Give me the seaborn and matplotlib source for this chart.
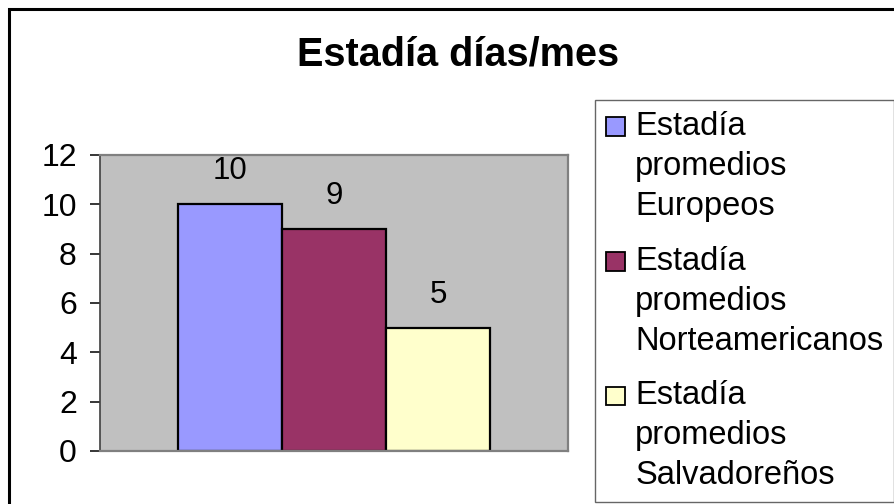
import matplotlib
matplotlib.use("Agg")
import matplotlib.pyplot as plt
from matplotlib.patches import Rectangle
from matplotlib.legend_handler import HandlerBase
import seaborn as sns
import pandas as pd

# datos
grupo = ["Estadía"]
series = ["Estadía\npromedios\nEuropeos",
          "Estadía\npromedios\nNorteamericanos",
          "Estadía\npromedios\nSalvadoreños"]
dias = [10, 9, 5]
colores = ["#9999FF", "#993366", "#FFFFCC"]
titulo = "Estadía días/mes"
yticks = [0, 2, 4, 6, 8, 10, 12]


class TopRectHandler(HandlerBase):
    """Dibuja el cuadro de la leyenda alineado con la primera línea del texto."""
    def create_artists(self, legend, orig_handle, xdescent, ydescent,
                       width, height, fontsize, trans):
        side = width
        r = Rectangle((-xdescent, 1.3 * fontsize), side, side,
                      facecolor=orig_handle.get_facecolor(),
                      edgecolor="black", linewidth=1.3, transform=trans)
        return [r]


sns.set_style("white")
plt.rcParams["font.family"] = ["Liberation Sans", "DejaVu Sans"]
plt.rcParams["text.color"] = "black"
plt.rcParams["ytick.color"] = "black"

df = pd.DataFrame({"grupo": grupo * len(series), "serie": series, "dias": dias})

W, H = 895, 504
fig = plt.figure(figsize=(W / 100, H / 100), dpi=100)
ax = fig.add_axes([100 / W, 1 - 451 / H, 468 / W, (451 - 155) / H])

sns.barplot(data=df, x="grupo", y="dias", hue="serie", palette=colores,
            width=2 / 3, gap=0, edgecolor="black", linewidth=1.6,
            saturation=1, legend=False, ax=ax)

for c in ax.containers:
    ax.bar_label(c, padding=13, fontsize=22.5, color="black")

ax.set_facecolor("#C0C0C0")
ax.set_xlim(-0.5, 0.5)
ax.set_ylim(0, 12)
ax.set_yticks(yticks)
ax.set_xticks([])
ax.set_xlabel("")
ax.set_ylabel("")
ax.tick_params(axis="y", left=True, length=7.2, width=1.1, pad=9.5,
               labelsize=23, colors="black")
for side in ["top", "right", "bottom"]:
    ax.spines[side].set_color("#808080")
    ax.spines[side].set_linewidth(1.6)
ax.spines["left"].set_color("#404040")
ax.spines["left"].set_linewidth(1.2)

fig.text(458 / W, 1 - 65 / H, titulo, ha="center", va="baseline",
         fontsize=28.5, fontweight="bold", color="black")

handles = [c[0] for c in ax.containers]
leg = fig.legend(handles, series, loc="upper left",
                 bbox_to_anchor=(595 / W, 1 - 100 / H),
                 bbox_transform=fig.transFigure, borderaxespad=0,
                 fontsize=23.5, handlelength=0.58, handletextpad=0.32,
                 labelspacing=0.72, borderpad=0.33, frameon=True,
                 fancybox=False, edgecolor="#404040",
                 handler_map={Rectangle: TopRectHandler()})
leg.get_frame().set_linewidth(1.0)
for t in leg.get_texts():
    t.set_linespacing(1.38)
    t.set_color("black")

# marco exterior (solo se ven los bordes superior e izquierdo)
fig.patches.append(Rectangle((9 / W, -0.1), 2, 1 - 9 / H + 0.1,
                             transform=fig.transFigure, fill=False,
                             edgecolor="black", linewidth=2.2))

fig.savefig("out.png", dpi=100)
